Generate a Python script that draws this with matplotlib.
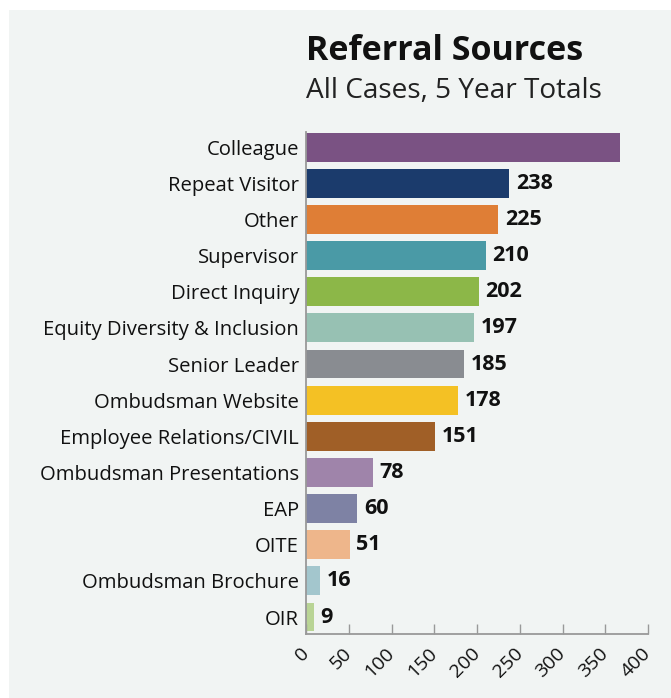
import numpy as np
import matplotlib.pyplot as plt
from matplotlib.patches import Rectangle

# data
sources = ["Colleague", "Repeat Visitor", "Other", "Supervisor", "Direct Inquiry",
           "Equity Diversity & Inclusion", "Senior Leader", "Ombudsman Website",
           "Employee Relations/CIVIL", "Ombudsman Presentations", "EAP", "OITE",
           "Ombudsman Brochure", "OIR"]
counts = [367, 238, 225, 210, 202, 197, 185, 178, 151, 78, 60, 51, 16, 9]
show_label = [False] + [True] * 13
colors = ["#7a5283", "#1b3b6c", "#df7e36", "#4a9aa6", "#8cb748", "#97c1b3",
          "#898c91", "#f4c124", "#a05f27", "#9f84aa", "#7e82a4", "#eeb68b",
          "#a3c6cd", "#b9d495"]
xticks = [0, 50, 100, 150, 200, 250, 300, 350, 400]

plt.rcParams['font.family'] = ['Open Sans', 'DejaVu Sans']

fig = plt.figure(figsize=(6.71, 6.98), dpi=100)
fig.patch.set_facecolor("white")
fig.patches.append(Rectangle((9 / 671, 0), 1, 1 - 10 / 698, transform=fig.transFigure,
                             facecolor="#f1f4f3", edgecolor="none", zorder=-10))

ax = fig.add_axes([306 / 671, 1 - 634 / 698, 342 / 671, (634 - 132) / 698])
ax.set_facecolor("none")

y = np.arange(len(sources))
ax.barh(y, counts, height=0.8, color=colors)
for yi, v, show in zip(y, counts, show_label):
    if show:
        ax.text(v + 8, yi, str(v), va="center", ha="left", fontsize=15.5,
                fontweight="bold", color="#111111")

ax.set_xlim(0, 400)
ax.set_ylim(13.47, -0.42)
ax.set_yticks(y)
ax.set_yticklabels(sources, fontsize=14.6, color="#111111")
ax.set_xticks(xticks)
ax.set_xticklabels([str(t) for t in xticks], rotation=45, ha="right", va="center",
                   rotation_mode="anchor", fontsize=14, color="#111111")
ax.tick_params(axis="y", length=0, pad=5)
ax.tick_params(axis="x", direction="in", length=7, width=1, color="#999999", pad=12)

for s in ["top", "right"]:
    ax.spines[s].set_visible(False)
for s in ["left", "bottom"]:
    ax.spines[s].set_color("#999999")
    ax.spines[s].set_linewidth(1.3)

fig.text(306 / 671, 1 - 60 / 698, "Referral Sources", fontsize=24.5, fontweight="bold",
         color="#111111", ha="left", va="baseline")
fig.text(306 / 671, 1 - 98 / 698, "All Cases, 5 Year Totals", fontsize=20.2,
         color="#222222", ha="left", va="baseline")

fig.savefig("out.png", dpi=100)
